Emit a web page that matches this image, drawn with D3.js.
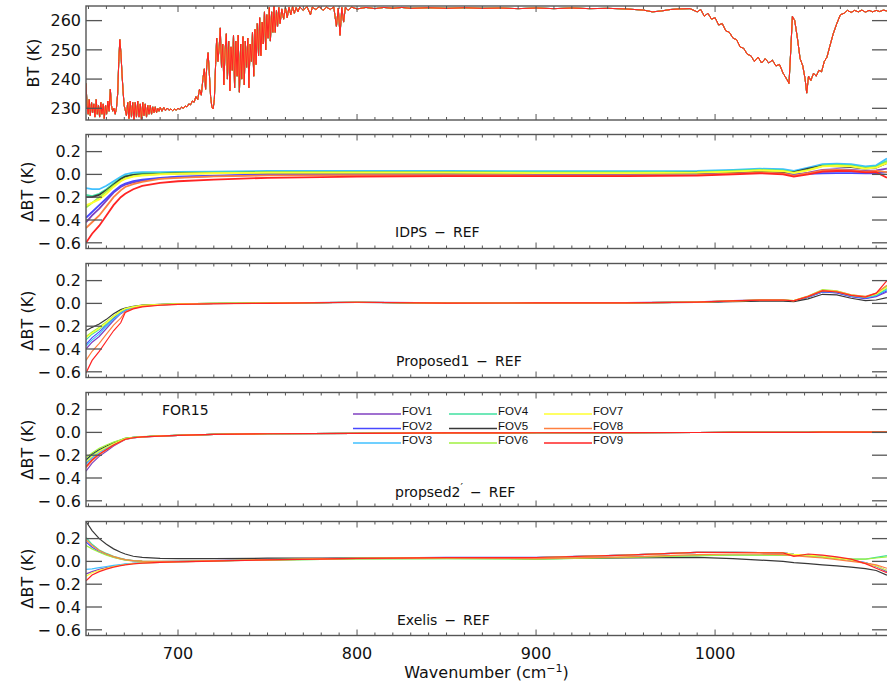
<!DOCTYPE html>
<html>
<head>
<meta charset="utf-8">
<script src="https://cdn.jsdelivr.net/npm/d3@7/dist/d3.min.js"></script>
<style>
	body { margin: 0; background: #fff; }
	svg { display: block; font-family: "DejaVu Sans", sans-serif; }
</style>
</head>
<body>
<svg id="chart" width="887" height="684"></svg>
<script>

// ---- data ---------------------------------------------------------------

var fovNames = ["FOV1", "FOV2", "FOV3", "FOV4", "FOV5", "FOV6", "FOV7", "FOV8", "FOV9"];
var fovColours = ["#8040c0", "#4848ff", "#40c0ff", "#40e0a0", "#383838",
				  "#a0f040", "#ffff30", "#ff8040", "#ff2424"];

// brightness temperature spectrum, [wavenumber, BT]
var btSpectrum = [
	[648.6,238.5],[649.2,231],[649.8,228],[650.4,233],[651.0,227.5],[651.7,232],[652.3,228.5],
	[653.0,231.5],[653.6,227],[654.3,233],[654.9,228],[655.6,231],[656.2,227],[656.9,232],
	[657.5,228],[658.2,231.5],[658.8,226.5],[659.5,231],[660.1,228],[660.8,232.5],[661.5,229],
	[662.2,236.5],[662.8,231],[663.5,229],[664.2,230],[664.9,228],[665.6,230],[666.3,235],
	[666.9,246],[667.5,253.5],[668.1,249],[668.7,242],[669.3,236],[669.9,231],[670.5,229.5],
	[671.2,227.5],[671.9,232],[672.6,226.5],[673.3,232.5],[674.0,227],[674.7,232],[675.4,226],
	[676.1,232],[676.8,227],[677.5,232.5],[678.2,227],[678.9,231.5],[679.6,226],[680.3,232],
	[681.0,227.5],[681.7,231.5],[682.4,227],[683.1,231],[683.8,228],[684.5,231],[685.2,228],
	[685.9,230.5],[686.6,228.5],[687.3,230.5],[688.0,228.5],[688.7,230],[689.4,229],[690.1,230.3],
	[691,229],[692,230.3],[693,229.2],[694,230.1],[695,229.3],[696,229.8],[697,229.2],[698,229.7],
	[699,229.4],[700,230],[701,229.6],[702,230.4],[703,230.0],[704,230.8],[705,230.5],[706,231.5],
	[707,231.2],[708,232.5],[709,232.1],[710,234],[711,233],[712,236.5],[713,234.5],[714,240.5],
	[714.7,243.5],[715.4,236.5],[716.1,245],[716.8,249],[717.5,242],[718.2,234],[718.9,230.5],
	[719.6,229.8],[720.3,233],[721.0,245],[721.6,254],[722.3,246],[723.0,251],[723.6,257.5],
	[724.3,244],[725.0,252],[725.6,238],[726.3,250],[727.0,255.5],[727.6,240],[728.3,253],
	[729.0,236],[729.6,251],[730.3,243],[731.0,255],[731.6,237],[732.3,253],[733.0,241],
	[733.6,255],[734.3,235.5],[735.0,252],[735.6,240],[736.3,254.5],[737.0,238],[737.6,253],
	[738.3,244],[739.0,254],[739.6,237],[740.3,252],[741.0,246],[741.6,256],[742.3,241],
	[743.0,257],[743.6,245],[744.3,259],[745.0,248],[745.6,261],[746.3,248],[747.0,259.5],
	[747.6,252],[748.3,263],[749.0,250],[749.6,262],[750.3,254],[751.0,264.5],[751.6,253],
	[752.3,263],[753.0,256],[753.6,265],[754.3,256],[755.0,263.5],[755.6,258],[756.3,264.5],
	[757.0,259],[758,264],[759,260.5],[760,264.5],[761,261],[762,264.6],[763,262],[764,264.8],
	[765,262.5],[766,264.5],[767,263],[768,264.7],[770,263.5],[772,264.8],[774,262],[775,264.6],
	[777,263.8],[779,264.8],[781,263.5],[783,264.6],[785,263.8],[787,264.7],[788.5,258],
	[789.5,264.3],[790.5,255],[791.5,264.5],[792.5,259.5],[793.5,264.6],[795,263.5],[797,264.6],
	[800,264],[805,264.5],[810,264.1],[815,264.5],[820,264.2],[825,264.5],[830,264.2],[840,264.4],
	[850,264.2],[860,264.4],[870,264.2],[880,264.3],[890,264.1],[900,264.3],[910,264.1],
	[920,264.3],[930,264.1],[940,264.2],[950,264.0],[960,263.6],[965,263.0],[970,263.3],
	[975,263.8],[980,264.0],[986,264.1],[990,263.0],[992,263.8],[994,261.5],[996,262.5],
	[998,260.5],[1000,261],[1002,258.5],[1004,259],[1006,256.5],[1008,256],[1010,254],
	[1012,253.5],[1014,251],[1016,250.5],[1018,248.5],[1020,248],[1022,246],[1024,247.5],
	[1026,245.5],[1028,247],[1030,245.5],[1032,246.5],[1034,244.5],[1036,245],[1038,242],
	[1040,240],[1041.3,238.5],[1042.3,250],[1043.2,261.5],[1044.5,260],[1046,254],[1047.5,247],
	[1049,244.5],[1050.3,240],[1051.2,235.2],[1052.2,241],[1053.5,239.5],[1055,242],[1056.5,241],
	[1058,243],[1059.5,242.5],[1061,246],[1062.5,247.5],[1064,251],[1066,255.5],[1068,259],
	[1070,262],[1072,262.5],[1074,263.5],[1076,262.8],[1078,263.5],[1080,263],[1082,263.6],
	[1084,262.9],[1086,263.5],[1088,263],[1090,263.5],[1092,263.1],[1094,263.6],[1096,263.3]
];

// wavenumbers at which the difference curves are read
var diffWn = [648.6, 652, 656, 660, 664, 668, 670.5, 675, 680, 690, 700, 720, 750, 800, 850,
			  900, 950, 990, 1010, 1025, 1038, 1044, 1052, 1060, 1068, 1076, 1084, 1090, 1096];

// IDPS - REF, one row per FOV (FOV1..FOV9)
var idpsRef = [
	[-0.42,-0.36,-0.30,-0.23,-0.16,-0.11,-0.09,-0.07,-0.055,-0.035,-0.025,-0.015,-0.005,-0.002,-0.002,-0.004,-0.004,0.0,0.01,0.02,0.012,-0.005,0.015,0.04,0.045,0.04,0.03,0.035,0.05],
	[-0.38,-0.33,-0.27,-0.21,-0.15,-0.10,-0.08,-0.06,-0.045,-0.03,-0.02,-0.01,0.0,0.002,0.002,0.0,0.0,0.003,0.012,0.02,0.012,0.0,0.005,0.01,0.012,0.012,0.01,0.01,0.02],
	[-0.12,-0.13,-0.13,-0.10,-0.06,-0.02,0.0,0.015,0.02,0.02,0.022,0.025,0.03,0.03,0.03,0.028,0.028,0.03,0.04,0.05,0.045,0.03,0.06,0.09,0.095,0.09,0.07,0.08,0.14],
	[-0.18,-0.19,-0.17,-0.13,-0.08,-0.035,-0.015,0.0,0.008,0.012,0.015,0.018,0.022,0.022,0.022,0.02,0.02,0.022,0.032,0.042,0.035,0.02,0.045,0.08,0.085,0.08,0.06,0.07,0.12],
	[-0.20,-0.20,-0.18,-0.14,-0.09,-0.04,-0.02,-0.005,0.0,0.005,0.01,0.012,0.015,0.015,0.015,0.012,0.012,0.015,0.02,0.03,0.02,0.02,0.05,0.075,0.07,0.065,0.05,0.06,0.10],
	[-0.29,-0.25,-0.20,-0.15,-0.10,-0.055,-0.035,-0.015,-0.005,0.003,0.008,0.012,0.017,0.017,0.017,0.015,0.015,0.017,0.027,0.037,0.03,0.015,0.04,0.072,0.078,0.072,0.053,0.063,0.11],
	[-0.27,-0.25,-0.22,-0.17,-0.11,-0.06,-0.04,-0.02,-0.01,0.0,0.005,0.01,0.015,0.015,0.015,0.012,0.012,0.015,0.025,0.035,0.028,0.012,0.035,0.07,0.075,0.07,0.05,0.06,0.10],
	[-0.47,-0.42,-0.36,-0.28,-0.20,-0.14,-0.11,-0.085,-0.065,-0.04,-0.03,-0.018,-0.008,-0.006,-0.006,-0.008,-0.008,-0.004,0.006,0.016,0.008,-0.01,0.01,0.035,0.04,0.035,0.025,0.03,0.02],
	[-0.60,-0.52,-0.45,-0.36,-0.27,-0.20,-0.17,-0.13,-0.10,-0.075,-0.06,-0.045,-0.03,-0.02,-0.015,-0.015,-0.015,-0.01,0.0,0.01,0.0,-0.02,0.0,0.025,0.03,0.028,0.018,0.02,-0.03]
];

// Proposed1 - REF
var proposed1Ref = [
	[-0.40,-0.34,-0.29,-0.22,-0.15,-0.09,-0.065,-0.038,-0.023,-0.013,-0.007,-0.002,0.002,0.012,0.004,0.005,0.006,0.014,0.025,0.032,0.032,0.02,0.055,0.10,0.092,0.06,0.042,0.06,0.10],
	[-0.36,-0.30,-0.25,-0.19,-0.13,-0.08,-0.055,-0.033,-0.02,-0.011,-0.006,-0.001,0.002,0.01,0.003,0.004,0.005,0.012,0.02,0.026,0.027,0.02,0.055,0.10,0.095,0.062,0.045,0.065,0.11],
	[-0.375,-0.32,-0.27,-0.20,-0.14,-0.085,-0.06,-0.035,-0.021,-0.012,-0.006,-0.001,0.002,0.01,0.003,0.004,0.005,0.012,0.02,0.026,0.027,0.02,0.057,0.105,0.10,0.065,0.05,0.07,0.12],
	[-0.32,-0.27,-0.23,-0.18,-0.12,-0.07,-0.05,-0.03,-0.018,-0.01,-0.005,0.0,0.003,0.01,0.003,0.004,0.005,0.011,0.02,0.026,0.028,0.022,0.06,0.11,0.10,0.068,0.052,0.075,0.13],
	[-0.24,-0.21,-0.18,-0.14,-0.09,-0.055,-0.04,-0.025,-0.015,-0.008,-0.004,0.0,0.002,0.008,0.003,0.003,0.004,0.008,0.015,0.02,0.02,0.015,0.04,0.08,0.075,0.045,0.025,0.03,0.05],
	[-0.29,-0.25,-0.21,-0.16,-0.11,-0.065,-0.045,-0.028,-0.017,-0.009,-0.004,0.0,0.003,0.01,0.003,0.004,0.005,0.012,0.022,0.028,0.03,0.025,0.065,0.12,0.11,0.075,0.06,0.085,0.15],
	[-0.30,-0.26,-0.22,-0.17,-0.115,-0.068,-0.047,-0.03,-0.018,-0.01,-0.005,0.0,0.003,0.01,0.003,0.004,0.005,0.012,0.022,0.028,0.03,0.025,0.063,0.115,0.105,0.072,0.058,0.08,0.14],
	[-0.50,-0.42,-0.35,-0.27,-0.19,-0.13,-0.075,-0.043,-0.026,-0.014,-0.008,-0.002,0.002,0.01,0.003,0.004,0.005,0.012,0.022,0.028,0.03,0.025,0.065,0.115,0.105,0.075,0.062,0.09,0.16],
	[-0.61,-0.50,-0.42,-0.33,-0.24,-0.17,-0.08,-0.048,-0.03,-0.016,-0.009,-0.003,0.001,0.01,0.003,0.004,0.005,0.012,0.022,0.028,0.03,0.022,0.06,0.11,0.10,0.07,0.055,0.09,0.20]
];

// propsed2' - REF
var proposed2Ref = [
	[-0.34,-0.27,-0.21,-0.165,-0.12,-0.085,-0.062,-0.048,-0.04,-0.032,-0.026,-0.018,-0.012,-0.008,-0.005,-0.003,-0.002,-0.001,0.0,0.0,0.0,0.0,0.001,0.002,0.002,0.002,0.002,0.002,0.003],
	[-0.27,-0.22,-0.17,-0.135,-0.103,-0.075,-0.057,-0.046,-0.039,-0.031,-0.026,-0.018,-0.012,-0.008,-0.005,-0.003,-0.002,-0.001,0.0,0.0,0.0,0.0,0.001,0.002,0.002,0.002,0.002,0.002,0.003],
	[-0.28,-0.225,-0.175,-0.14,-0.105,-0.077,-0.058,-0.046,-0.039,-0.031,-0.026,-0.018,-0.012,-0.008,-0.005,-0.003,-0.002,-0.001,0.0,0.0,0.0,0.0,0.001,0.002,0.002,0.002,0.002,0.002,0.003],
	[-0.25,-0.20,-0.16,-0.125,-0.095,-0.07,-0.054,-0.044,-0.038,-0.031,-0.025,-0.018,-0.012,-0.008,-0.005,-0.003,-0.002,-0.001,0.0,0.0,0.0,0.0,0.001,0.002,0.002,0.002,0.002,0.002,0.003],
	[-0.24,-0.19,-0.15,-0.12,-0.09,-0.068,-0.052,-0.044,-0.038,-0.031,-0.026,-0.018,-0.012,-0.008,-0.005,-0.003,-0.002,-0.001,0.0,0.0,0.0,0.0,0.001,0.002,0.002,0.002,0.002,0.002,0.003],
	[-0.22,-0.18,-0.14,-0.11,-0.085,-0.065,-0.05,-0.043,-0.037,-0.03,-0.025,-0.018,-0.012,-0.008,-0.005,-0.003,-0.002,-0.001,0.0,0.0,0.0,0.0,0.001,0.002,0.002,0.002,0.002,0.002,0.003],
	[-0.26,-0.21,-0.165,-0.13,-0.10,-0.073,-0.056,-0.045,-0.039,-0.031,-0.026,-0.018,-0.012,-0.008,-0.005,-0.003,-0.002,-0.001,0.0,0.0,0.0,0.0,0.001,0.002,0.002,0.002,0.002,0.002,0.003],
	[-0.31,-0.25,-0.195,-0.155,-0.113,-0.082,-0.061,-0.047,-0.04,-0.032,-0.026,-0.018,-0.012,-0.008,-0.005,-0.003,-0.002,-0.001,0.0,0.0,0.0,0.0,0.001,0.002,0.002,0.002,0.002,0.002,0.003],
	[-0.30,-0.24,-0.19,-0.15,-0.11,-0.08,-0.06,-0.047,-0.04,-0.032,-0.026,-0.018,-0.012,-0.008,-0.005,-0.003,-0.002,-0.001,0.0,0.0,0.0,0.0,0.001,0.002,0.002,0.002,0.002,0.002,0.003]
];

// Exelis - REF
var exelisRef = [
	[-0.11,-0.09,-0.07,-0.055,-0.042,-0.032,-0.026,-0.018,-0.013,-0.008,-0.004,0.004,0.015,0.028,0.033,0.033,0.055,0.08,0.08,0.078,0.075,0.062,0.055,0.045,0.03,0.01,-0.015,-0.045,-0.09],
	[0.17,0.125,0.085,0.06,0.038,0.022,0.014,0.005,0.001,-0.001,0.0,0.008,0.018,0.03,0.035,0.035,0.055,0.08,0.08,0.078,0.075,0.062,0.055,0.045,0.03,0.012,-0.01,-0.04,-0.08],
	[-0.07,-0.065,-0.055,-0.045,-0.035,-0.027,-0.022,-0.016,-0.011,-0.006,-0.003,0.004,0.015,0.028,0.033,0.033,0.055,0.08,0.08,0.078,0.075,0.062,0.055,0.045,0.03,0.01,-0.012,-0.04,-0.08],
	[0.21,0.15,0.10,0.07,0.045,0.028,0.018,0.008,0.003,0.0,0.0,0.005,0.012,0.022,0.025,0.02,0.035,0.05,0.055,0.055,0.055,0.055,0.045,0.035,0.025,0.02,0.02,0.035,0.05],
	[0.35,0.27,0.20,0.15,0.11,0.08,0.065,0.045,0.035,0.027,0.025,0.025,0.028,0.03,0.028,0.025,0.03,0.035,0.025,0.012,0.0,-0.01,-0.02,-0.03,-0.04,-0.05,-0.063,-0.08,-0.12],
	[0.14,0.11,0.08,0.055,0.035,0.02,0.012,0.004,0.0,-0.002,-0.001,0.004,0.012,0.022,0.025,0.02,0.035,0.05,0.055,0.055,0.055,0.055,0.045,0.035,0.025,0.02,0.02,0.03,0.04],
	[-0.13,-0.10,-0.078,-0.06,-0.045,-0.034,-0.027,-0.019,-0.013,-0.008,-0.004,0.004,0.015,0.028,0.033,0.033,0.055,0.08,0.08,0.078,0.075,0.062,0.055,0.045,0.03,0.01,-0.015,-0.04,-0.08],
	[0.19,0.14,0.095,0.065,0.042,0.025,0.016,0.006,0.002,0.0,0.0,0.006,0.014,0.025,0.03,0.025,0.04,0.06,0.065,0.065,0.06,0.05,0.04,0.03,0.015,0.0,-0.015,-0.03,-0.06],
	[-0.17,-0.12,-0.09,-0.068,-0.05,-0.037,-0.03,-0.021,-0.015,-0.009,-0.005,0.003,0.014,0.027,0.033,0.034,0.055,0.08,0.078,0.076,0.075,0.045,0.065,0.055,0.04,0.02,-0.02,-0.06,-0.10]
];

var btTicks = [230, 240, 250, 260];
var diffTicks = [0.2, 0.0, -0.2, -0.4, -0.6];
var xTickLabels = [700, 800, 900, 1000];


// ---- layout ---------------------------------------------------------------

var LEFT = 86, RIGHT = 888;
var PANEL_H = 114;
var panelTops = [6, 134.5, 263.5, 392.5, 521.5];
var FRAME = "#555";

var x = d3.scaleLinear().domain([648.6, 1096.6]).range([LEFT, RIGHT]);
var svg = d3.select("#chart");


function drawFrame(top, y, yTicks) {

	var bottom = top + PANEL_H;
	var g = svg.append("g");

	// x ticks every 10 cm-1, longer on the hundreds, top and bottom
	var xt = d3.range(650, 1096, 10);
	g.selectAll(".xb").data(xt).enter().append("line")
		.attr("x1", function(d) { return x(d); })
		.attr("x2", function(d) { return x(d); })
		.attr("y1", bottom)
		.attr("y2", function(d) { return bottom - (d % 100 == 0 ? 6 : 3); })
		.attr("stroke", FRAME).attr("stroke-width", 1);
	g.selectAll(".xt").data(xt).enter().append("line")
		.attr("x1", function(d) { return x(d); })
		.attr("x2", function(d) { return x(d); })
		.attr("y1", top)
		.attr("y2", function(d) { return top + (d % 100 == 0 ? 6 : 3); })
		.attr("stroke", FRAME).attr("stroke-width", 1);

	// y ticks on both sides
	g.selectAll(".yl").data(yTicks).enter().append("line")
		.attr("x1", LEFT).attr("x2", LEFT + 16)
		.attr("y1", function(d) { return y(d); })
		.attr("y2", function(d) { return y(d); })
		.attr("stroke", FRAME).attr("stroke-width", 1.3);
	g.selectAll(".yr").data(yTicks).enter().append("line")
		.attr("x1", RIGHT).attr("x2", RIGHT - 16)
		.attr("y1", function(d) { return y(d); })
		.attr("y2", function(d) { return y(d); })
		.attr("stroke", FRAME).attr("stroke-width", 1.3);

	g.append("rect")
		.attr("x", LEFT).attr("y", top)
		.attr("width", RIGHT - LEFT).attr("height", PANEL_H)
		.attr("fill", "none").attr("stroke", FRAME).attr("stroke-width", 1.4);

	// tick labels; the minus sign is set a little apart from the number
	var lab = g.selectAll(".ylab").data(yTicks).enter().append("g")
		.attr("transform", function(d) { return "translate(0," + y(d) + ")"; });
	lab.append("text")
		.attr("x", 81).attr("dy", "0.36em")
		.attr("text-anchor", "end")
		.attr("font-size", 16).attr("fill", "#111")
		.text(function(d) { return Math.abs(d) < 1e-9 ? d3.format(".1f")(0) :
			(Math.abs(d) < 1 ? d3.format(".1f")(Math.abs(d)) : d3.format("d")(d)); });
	lab.filter(function(d) { return d < 0; }).append("text")
		.attr("x", 51).attr("dy", "0.36em")
		.attr("text-anchor", "end")
		.attr("font-size", 16).attr("fill", "#111")
		.text("\u2212");
}


function yTitle(top, xPos, txt) {
	svg.append("text")
		.attr("transform", "translate(" + xPos + "," + (top + PANEL_H / 2) + ") rotate(-90)")
		.attr("text-anchor", "middle")
		.attr("font-size", 16).attr("fill", "#111")
		.text(txt);
}


function clipFor(i, top) {
	svg.append("clipPath").attr("id", "clip" + i)
		.append("rect")
		.attr("x", LEFT).attr("y", top)
		.attr("width", RIGHT - LEFT).attr("height", PANEL_H);
	return "url(#clip" + i + ")";
}


// ---- panel 1: BT spectrum ----------------------------------------------------

var yBT = d3.scaleLinear().domain([226, 265]).range([panelTops[0] + PANEL_H, panelTops[0]]);

var btLine = d3.line()
	.x(function(d) { return x(d[0]); })
	.y(function(d) { return yBT(d[1]); });

svg.append("g").attr("clip-path", clipFor(0, panelTops[0]))
	.selectAll("path")
	.data(fovColours)
	.enter().append("path")
	.attr("d", btLine(btSpectrum))
	.attr("fill", "none")
	.attr("stroke", function(d) { return d; })
	.attr("stroke-width", 1);

drawFrame(panelTops[0], yBT, btTicks);
yTitle(panelTops[0], 39, "BT (K)");


// ---- difference panels ---------------------------------------------------

var diffPanels = [idpsRef, proposed1Ref, proposed2Ref, exelisRef];

diffPanels.forEach(function(series, k) {

	var top = panelTops[k + 1];
	var y = d3.scaleLinear().domain([-0.65, 0.35]).range([top + PANEL_H, top]);

	var line = d3.line()
		.x(function(d, i) { return x(diffWn[i]); })
		.y(function(d) { return y(d); });

	svg.append("g").attr("clip-path", clipFor(k + 1, top))
		.selectAll("path")
		.data(series)
		.enter().append("path")
		.attr("d", function(d) { return line(d); })
		.attr("fill", "none")
		.attr("stroke", function(d, i) { return fovColours[i]; })
		.attr("stroke-width", k == 0 ? 1.8 : 1.2);

	drawFrame(top, y, diffTicks);
	yTitle(top, 33, "\u0394BT (K)");
});


// ---- panel captions ----------------------------------------------------------

function caption(xp, yp, txt) {
	return svg.append("text")
		.attr("x", xp).attr("y", yp)
		.attr("font-size", 14).attr("fill", "#111")
		.text(txt);
}

var DASH = "\u2002\u2212\u2002";
caption(395, 237, "IDPS" + DASH + "REF");
caption(396, 366, "Proposed1" + DASH + "REF");
var p2 = caption(395, 497, "propsed2");
p2.append("tspan").attr("dy", -6).attr("font-size", 11).text("\u2032");
p2.append("tspan").attr("dy", 6).text(DASH + "REF");
caption(397, 625, "Exelis" + DASH + "REF");
caption(162, 415, "FOR15");


// ---- legend ------------------------------------------------------------------

var legendCols = [353, 449, 544];
var legendRows = [414, 428.5, 443];

var leg = svg.selectAll(".legend")
	.data(fovNames)
	.enter().append("g")
	.attr("transform", function(d, i) {
		return "translate(" + legendCols[Math.floor(i / 3)] + "," + legendRows[i % 3] + ")";
	});

leg.append("line")
	.attr("x1", 0).attr("x2", 48)
	.attr("stroke", function(d, i) { return fovColours[i]; })
	.attr("stroke-width", 1.5);

leg.append("text")
	.attr("x", 49).attr("y", 1)
	.attr("font-family", "Liberation Sans, Arial, sans-serif")
	.attr("font-size", 11.5).attr("fill", "#111")
	.text(function(d) { return d; });


// ---- x axis labels -----------------------------------------------------------

svg.selectAll(".xlab")
	.data(xTickLabels)
	.enter().append("text")
	.attr("x", function(d) { return x(d); })
	.attr("y", 659)
	.attr("text-anchor", "middle")
	.attr("font-size", 16).attr("fill", "#111")
	.text(function(d) { return d; });

var xt = svg.append("text")
	.attr("x", (LEFT + 887) / 2).attr("y", 678)
	.attr("text-anchor", "middle")
	.attr("font-size", 16).attr("fill", "#111")
	.text("Wavenumber (cm");
xt.append("tspan").attr("dy", -6).attr("font-size", 11).text("\u22121");
xt.append("tspan").attr("dy", 6).text(")");

</script>
</body>
</html>
